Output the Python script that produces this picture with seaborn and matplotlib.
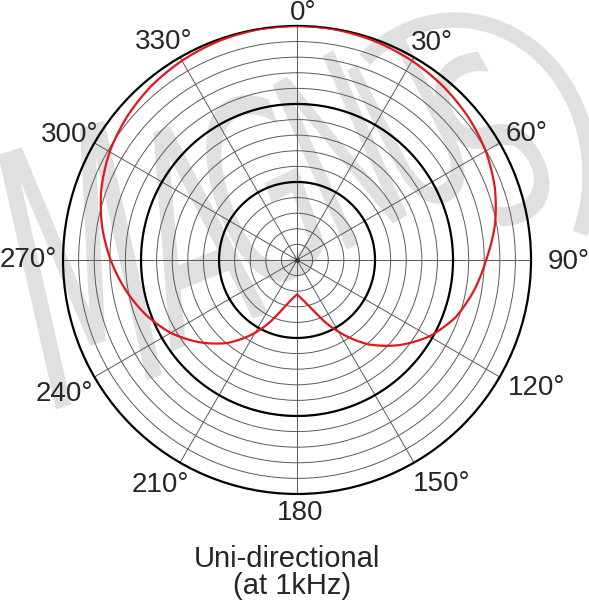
import numpy as np
import matplotlib
matplotlib.use("Agg")
import matplotlib.pyplot as plt
import seaborn as sns
from matplotlib.textpath import TextPath
from matplotlib.patches import PathPatch, Arc
from matplotlib.transforms import Affine2D, IdentityTransform
from matplotlib.font_manager import FontProperties

# Polar response (ring units, outer ring = 15); denser near the rear cusp
angles_deg = [0, 10, 20, 30, 40, 50, 60, 70, 80, 90, 100, 110, 120, 130, 140, 150, 160, 165, 170, 175,
              180, 185, 190, 195, 200, 210, 220, 230, 240, 250, 260, 270, 280, 290, 300, 310, 320, 330, 340, 350]
levels = [15.0, 14.97, 14.88, 14.74, 14.55, 14.3, 13.97, 13.5, 12.88, 12.12, 11.5, 10.8, 9.8, 8.5, 7.05, 5.3, 3.65, 3.08, 2.69, 2.4,
          2.2, 2.4, 2.69, 3.1, 3.75, 5.4, 6.95, 8.2, 9.35, 10.3, 11.15, 11.95, 12.7, 13.35, 13.87, 14.25, 14.55, 14.75, 14.9, 14.98]

tick_angles = [0, 30, 60, 90, 120, 150, 180, 210, 240, 270, 300, 330]
tick_labels = ["0°", "30°", "60°", "90°", "120°", "150°", "180", "210°", "240°", "270°", "300°", "330°"]
# where each label sits (angle, radius) in ring units
label_pos_deg = [1.4, 31.8, 61.3, 90.4, 118.2, 147.3, 179.3, 211.3, 240.1, 270, 298.8, 328.6]
label_pos_r = [15.85, 16.4, 16.8, 17.4, 17.4, 17.1, 16.2, 16.9, 17.2, 17.2, 16.6, 16.4]

title_lines = ["Uni-directional", "(at 1kHz)"]

sns.set_style("white")
plt.rcParams["font.family"] = ["Liberation Sans", "DejaVu Sans"]

fig = plt.figure(figsize=(5.89, 6.0), dpi=100)
ax = fig.add_axes([0.107, 0.1767, 0.7946, 0.78], projection="polar")
ax.patch.set_alpha(0)

# --- watermark (light grey tilted letters + swoosh) ---
wm_color = "#e0e0e0"
wm_font = FontProperties(family="DejaVu Sans", weight="normal", style="italic")
wm_letters = ["M", "A", "G", "N", "U", "S"]
wm_cx = [80, 180, 260, 340, 415, 490]
wm_cy = [265, 235, 190, 150, 125, 140]
wm_h = [260, 210, 190, 180, 165, 175]
wm_w = [135, 105, 95, 88, 78, 82]
wm_rot = [18, 22, 26, 30, 33, 35]
for ch, cx, cy, h, w, rot in zip(wm_letters, wm_cx, wm_cy, wm_h, wm_w, wm_rot):
    tp = TextPath((0, 0), ch, size=100, prop=wm_font)
    bb = tp.get_extents()
    tr = (Affine2D().translate(-(bb.x0 + bb.width / 2), -(bb.y0 + bb.height / 2))
          .scale(w / bb.width, h / bb.height).rotate_deg(rot).translate(cx, 600 - cy))
    p = PathPatch(tr.transform_path(tp), facecolor=wm_color, edgecolor="none",
                  transform=IdentityTransform(), zorder=-5)
    fig.add_artist(p)
swoosh = Arc((455, 600 - 175), 270, 310, theta1=-25, theta2=128, color=wm_color,
             linewidth=11, transform=IdentityTransform(), zorder=-5)
fig.add_artist(swoosh)

ax.set_theta_zero_location("N")
ax.set_theta_direction(-1)
ax.set_rlim(0, 15)

# thin grey rings and spokes
ax.set_rticks(np.arange(1, 15))
ax.set_yticklabels([])
ax.set_thetagrids(tick_angles, labels=[""] * len(tick_angles))
ax.grid(True, color="#5a5a5a", linewidth=0.7)
ax.spines["polar"].set_color("black")
ax.spines["polar"].set_linewidth(1.6)

# bold rings at 5 and 10
full = np.linspace(0, 2 * np.pi, 361)
for rr in (5, 10):
    ax.plot(full, np.full_like(full, rr), color="black", linewidth=1.6, zorder=3)
ax.plot(0, 0, "o", color="#333333", markersize=2.5, zorder=4)

# response curve (closed)
th = np.deg2rad(angles_deg + [360])
rv = levels + [levels[0]]
sns.lineplot(x=th, y=rv, sort=False, ax=ax, color="#e3161d", linewidth=1.6, zorder=5)
# let the polar transform bend each segment instead of drawing chords
ax.lines[-1].get_path()._interpolation_steps = 40
ax.set_xlabel("")
ax.set_ylabel("")

for a, r, lab in zip(label_pos_deg, label_pos_r, tick_labels):
    ax.text(np.deg2rad(a), r, lab, ha="center", va="center", fontsize=20, clip_on=False)

fig.text(287 / 589, 1 - 559 / 600, title_lines[0], ha="center", va="center", fontsize=21)
fig.text(292 / 589, 1 - 586 / 600, title_lines[1], ha="center", va="center", fontsize=21)

fig.savefig("out.png", dpi=100, facecolor="white")
